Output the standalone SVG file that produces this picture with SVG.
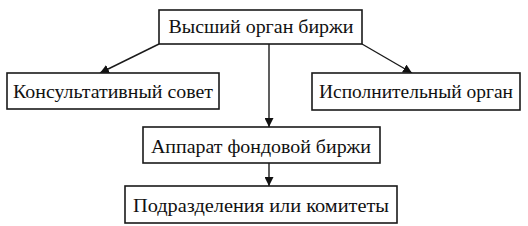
<svg xmlns="http://www.w3.org/2000/svg" width="528" height="226" viewBox="0 0 528 226">
<defs>
<style>
.box{fill:#fff;stroke:#1a1a1a;stroke-width:1.6}
.t{font-family:"Liberation Serif","Times New Roman",serif;font-size:19px;fill:#111;text-anchor:middle}
.c{stroke:#1a1a1a;stroke-width:1.4;fill:none}
</style>
<marker id="ah" viewBox="0 0 10 10" refX="10" refY="5" markerWidth="9" markerHeight="9" markerUnits="userSpaceOnUse" orient="auto">
<path d="M0,0 L10,5 L0,10 z" fill="#111"/>
</marker>
</defs>
<rect width="528" height="226" fill="#fff"/>
<g id="connectors">
<line class="c" x1="159" y1="44" x2="100" y2="73" marker-end="url(#ah)"/>
<line class="c" x1="362" y1="44" x2="412" y2="73" marker-end="url(#ah)"/>
<line class="c" x1="269" y1="44" x2="269" y2="127" marker-end="url(#ah)"/>
<line class="c" x1="269" y1="163" x2="269" y2="186" marker-end="url(#ah)"/>
</g>
<g id="top">
<rect class="box" x="159" y="10" width="203" height="34"/>
<text class="t" x="261" y="33" textLength="185" lengthAdjust="spacingAndGlyphs">Высший орган биржи</text>
</g>
<g id="left">
<rect class="box" x="7" y="73" width="212" height="36"/>
<text class="t" x="113" y="98" textLength="200" lengthAdjust="spacingAndGlyphs">Консультативный совет</text>
</g>
<g id="right">
<rect class="box" x="312" y="73" width="208" height="37"/>
<text class="t" x="416" y="98" textLength="194" lengthAdjust="spacingAndGlyphs">Исполнительный орган</text>
</g>
<g id="apparat">
<rect class="box" x="143" y="127" width="237" height="36"/>
<text class="t" x="261" y="153" textLength="220" lengthAdjust="spacingAndGlyphs">Аппарат фондовой биржи</text>
</g>
<g id="bottom">
<rect class="box" x="125" y="186" width="272" height="37"/>
<text class="t" x="261" y="212" textLength="256" lengthAdjust="spacingAndGlyphs">Подразделения или комитеты</text>
</g>
</svg>
